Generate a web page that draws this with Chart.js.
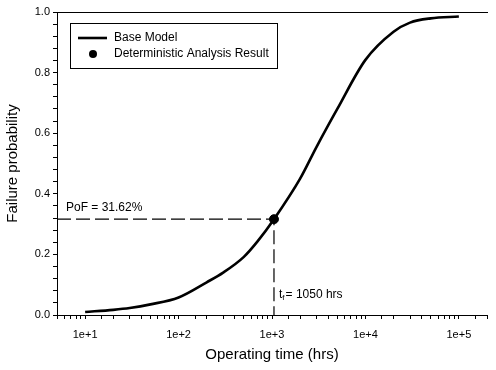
<!DOCTYPE html>
<html>
<head>
<meta charset="utf-8">
<script src="https://cdn.jsdelivr.net/npm/chart.js@4.4.0/dist/chart.umd.min.js"></script>
<style>
  html, body { margin: 0; padding: 0; background: #fff; }
  #wrap { width: 496px; height: 370px; }
</style>
</head>
<body>
<div id="wrap"><canvas id="myChart"></canvas></div>
<script>
// Data
const operatingTime = [10, 20, 30, 50, 100, 200, 300, 500, 700, 1050, 2000, 3000, 5000, 10000, 20000, 30000, 50000, 100000];
const failureProb = [0.010, 0.017, 0.023, 0.035, 0.058, 0.108, 0.14, 0.192, 0.243, 0.3162, 0.45, 0.555, 0.68, 0.842, 0.935, 0.965, 0.979, 0.985];

const resultTime = 1050;
const resultPoF = 0.3162;

// Axes
const xMin = 5;
const xMax = 200000;
const yMajor = [0.0, 0.2, 0.4, 0.6, 0.8, 1.0];
const yMinorPerMajor = 5;

const FONT = '"Liberation Sans", Arial, sans-serif';

let yTicks = [];
for (let i = 0; i < yMajor.length - 1; i++) {
  for (let j = 0; j < yMinorPerMajor; j++) {
    yTicks.push(yMajor[i] + (yMajor[i + 1] - yMajor[i]) * j / yMinorPerMajor);
  }
}
yTicks.push(yMajor[yMajor.length - 1]);

// Legend box + text labels
const annotations = {
  id: 'annotations',
  afterDatasetsDraw(chart) {
    const ctx = chart.ctx;
    const x = chart.scales.x;
    const y = chart.scales.y;
    ctx.save();
    ctx.fillStyle = '#000';
    ctx.strokeStyle = '#000';
    ctx.textBaseline = 'middle';
    ctx.font = '12px ' + FONT;

    // PoF label
    ctx.fillText('PoF = ' + (resultPoF * 100).toFixed(2) + '%', chart.chartArea.left + 9, y.getPixelForValue(resultPoF) - 12);

    // t_f label
    let tx = x.getPixelForValue(resultTime) + 5;
    let ty = chart.chartArea.bottom - 20;
    ctx.fillText('t', tx, ty);
    tx += ctx.measureText('t').width;
    ctx.font = '8px ' + FONT;
    ctx.fillText('f', tx, ty + 3);
    tx += ctx.measureText('f').width + 1;
    ctx.font = '12px ' + FONT;
    ctx.fillText('= ' + resultTime + ' hrs', tx, ty);

    // legend
    const lx = chart.chartArea.left + 13;
    const ly = chart.chartArea.top + 11;
    ctx.lineWidth = 1;
    ctx.strokeRect(lx + 0.5, ly + 0.5, 207, 45);
    ctx.lineWidth = 2.6;
    ctx.beginPath();
    ctx.moveTo(lx + 8, ly + 15);
    ctx.lineTo(lx + 37, ly + 15);
    ctx.stroke();
    ctx.beginPath();
    ctx.arc(lx + 23, ly + 31, 4, 0, Math.PI * 2);
    ctx.fill();
    ctx.fillText(chart.data.datasets[0].label, lx + 44, ly + 15);
    ctx.fillText(chart.data.datasets[1].label, lx + 44, ly + 31);
    ctx.restore();
  }
};

const data = {
  datasets: [
    {
      label: 'Base Model',
      data: operatingTime.map((t, i) => ({ x: t, y: failureProb[i] })),
      borderColor: '#000',
      borderWidth: 2.6,
      pointRadius: 0,
      cubicInterpolationMode: 'monotone',
      xAxisID: 'x',
      yAxisID: 'y',
    },
    {
      label: 'Deterministic Analysis Result',
      data: [{ x: resultTime, y: resultPoF }],
      showLine: false,
      pointRadius: 4.5,
      backgroundColor: '#000',
      borderColor: '#000',
      xAxisID: 'x',
      yAxisID: 'y',
    },
    {
      label: 'guide',
      data: [{ x: xMin, y: resultPoF }, { x: resultTime, y: resultPoF }, { x: resultTime, y: 0 }],
      borderColor: '#000',
      borderWidth: 1.2,
      borderDash: [14, 5],
      pointRadius: 0,
      tension: 0,
      xAxisID: 'x',
      yAxisID: 'y',
    },
  ],
};

const config = {
  type: 'line',
  data: data,
  plugins: [annotations],
  options: {
    responsive: false,
    animation: false,
    layout: { padding: 0 },
    plugins: {
      legend: { display: false },
      tooltip: { enabled: false },
    },
    scales: {
      x: {
        type: 'logarithmic',
        position: 'bottom',
        min: xMin,
        max: xMax,
        afterFit: (s) => { s.height = 55; },
        grid: { drawOnChartArea: false, tickLength: 4, color: '#000' },
        border: { color: '#000', width: 1 },
        ticks: {
          autoSkip: false,
          maxRotation: 0,
          padding: 9,
          color: '#000',
          font: { family: FONT, size: 11 },
          callback: (v) => {
            const e = Math.log10(v);
            return Math.abs(e - Math.round(e)) < 1e-9 ? '1e+' + Math.round(e) : '';
          },
        },
        title: {
          display: true,
          text: 'Operating time (hrs)',
          color: '#000',
          font: { family: FONT, size: 15 },
          padding: { top: 0, bottom: 6 },
        },
      },
      xTop: {
        type: 'linear',
        position: 'top',
        afterFit: (s) => { s.height = 12; },
        grid: { drawOnChartArea: false, drawTicks: false },
        border: { color: '#000', width: 1 },
        ticks: { display: false },
      },
      y: {
        min: 0,
        max: 1,
        afterFit: (s) => { s.width = 57; },
        afterBuildTicks: (s) => { s.ticks = yTicks.map((v) => ({ value: v })); },
        grid: { drawOnChartArea: false, tickLength: 4, color: '#000' },
        border: { color: '#000', width: 1 },
        ticks: {
          autoSkip: false,
          padding: 3,
          color: '#000',
          font: { family: FONT, size: 11 },
          callback: (v) => (yMajor.some((m) => Math.abs(m - v) < 1e-6) ? v.toFixed(1) : ''),
        },
        title: {
          display: true,
          text: 'Failure probability',
          color: '#000',
          font: { family: FONT, size: 15 },
          padding: { top: 4, bottom: 0 },
        },
      },
    },
  },
};

const canvas = document.getElementById('myChart');
canvas.width = 496;
canvas.height = 370;
const myChart = new Chart(canvas, config);
</script>
</body>
</html>
